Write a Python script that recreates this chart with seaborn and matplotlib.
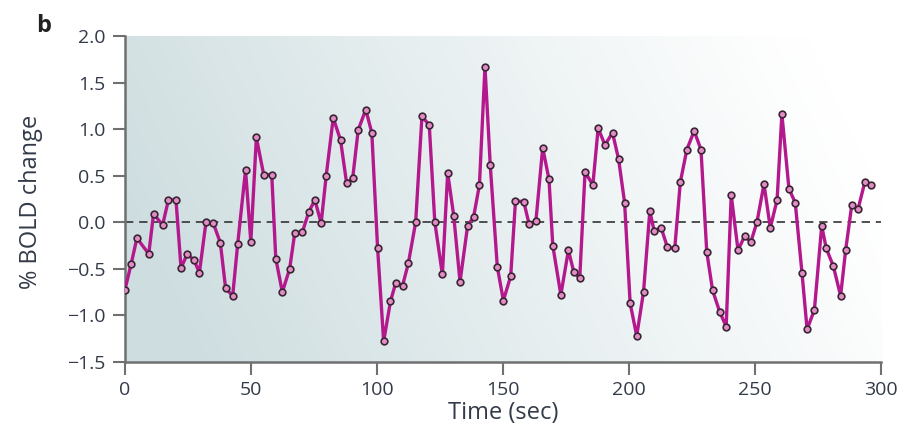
import numpy as np
import pandas as pd
import seaborn as sns
import matplotlib.pyplot as plt

# BOLD time course
time_sec = [0, 2.5, 4.8, 9.5, 11.4, 15.0, 17.3, 20.3, 22.3, 24.8,
            27.5, 29.6, 32.2, 35.1, 37.9, 40.0, 42.8, 44.8, 47.9, 50.0,
            52.2, 55.1, 58.3, 59.9, 62.5, 65.4, 67.4, 70.4, 73.0, 75.4,
            77.9, 79.9, 82.7, 85.6, 88.0, 90.4, 92.6, 95.6, 98.0, 100.3,
            102.7, 105.4, 107.5, 110.2, 112.5, 115.4, 117.9, 120.8, 123.0, 126.0,
            128.1, 130.5, 133.0, 136.0, 138.4, 140.7, 142.9, 145.0, 147.8, 150.2,
            153.1, 155.0, 158.3, 160.4, 163.1, 165.8, 168.3, 169.8, 173.0, 176.0,
            178.1, 180.5, 182.6, 185.7, 187.8, 190.5, 193.5, 195.9, 198.3, 200.5,
            203.1, 205.8, 208.3, 210.0, 212.8, 215.3, 218.2, 220.4, 223.0, 225.9,
            228.6, 230.9, 233.2, 236.0, 238.6, 240.6, 243.3, 245.9, 248.4, 250.8,
            253.6, 256.1, 258.8, 260.7, 263.5, 266.0, 268.7, 270.7, 273.6, 276.5,
            278.3, 281.1, 284.0, 286.0, 288.4, 290.9, 293.6, 296.1]
bold_change = [-0.73, -0.45, -0.17, -0.34, 0.09, -0.03, 0.24, 0.24, -0.49, -0.34,
               -0.41, -0.54, 0.00, -0.01, -0.22, -0.71, -0.79, -0.23, 0.56, -0.21,
               0.91, 0.51, 0.51, -0.39, -0.75, -0.50, -0.12, -0.11, 0.11, 0.24,
               -0.01, 0.50, 1.12, 0.88, 0.42, 0.47, 0.99, 1.21, 0.96, -0.28,
               -1.28, -0.85, -0.65, -0.68, -0.44, 0.00, 1.14, 1.04, 0.00, -0.56,
               0.53, 0.07, -0.64, -0.04, 0.06, 0.40, 1.67, 0.61, -0.48, -0.84,
               -0.58, 0.23, 0.22, -0.02, 0.01, 0.80, 0.46, -0.25, -0.78, -0.30,
               -0.53, -0.60, 0.54, 0.40, 1.01, 0.83, 0.96, 0.68, 0.21, -0.87,
               -1.22, -0.75, 0.12, -0.09, -0.06, -0.27, -0.28, 0.43, 0.78, 0.98,
               0.78, -0.32, -0.73, -0.96, -1.12, 0.29, -0.30, -0.15, -0.21, 0.00,
               0.41, -0.06, 0.24, 1.16, 0.36, 0.21, -0.55, -1.15, -0.94, -0.04,
               -0.28, -0.47, -0.79, -0.30, 0.18, 0.14, 0.43, 0.40]
x_ticks = [0, 50, 100, 150, 200, 250, 300]
y_ticks = [-1.5, -1.0, -0.5, 0.0, 0.5, 1.0, 1.5, 2.0]

df = pd.DataFrame({"time": time_sec, "bold": bold_change})

sns.set_style("ticks")
plt.rcParams['font.family'] = ['Open Sans', 'DejaVu Sans']
text_col = "#333a48"
axis_col = "#707070"

fig = plt.figure(figsize=(9.11, 4.33), dpi=100)
ax = fig.add_axes([0.137, 0.164, 0.830, 0.753])

# soft blue-grey to white gradient behind the data
gx, gy = np.meshgrid(np.linspace(0, 1, 256), np.linspace(0, 1, 128))
shade = np.clip(0.9 - gx * 1.0 + 0.2 * gy, 0, 1) ** 1.1
rgb_dark = np.array([0.81, 0.87, 0.88])
rgb_light = np.array([1.0, 1.0, 1.0])
img = rgb_light + (rgb_dark - rgb_light) * shade[..., None]
ax.imshow(img, extent=[0, 300, -1.5, 2.0], origin="upper", aspect="auto", zorder=0)

ax.axhline(0, color="#333333", lw=1.2, ls=(0, (5, 3.5)), zorder=1)
sns.lineplot(data=df, x="time", y="bold", ax=ax, color="#b3198c", lw=2.4,
             marker="o", markersize=4.8, markerfacecolor="#e28cc6",
             markeredgecolor="#3a2533", markeredgewidth=1.2, zorder=3)

ax.set_xlim(0, 300)
ax.set_ylim(-1.5, 2.0)
ax.set_xticks(x_ticks)
ax.set_yticks(y_ticks)
ax.set_yticklabels([f"{v:.1f}".replace("-", "\u2212") for v in y_ticks])
ax.set_xlabel("Time (sec)", fontsize=17, color=text_col)
ax.set_ylabel("% BOLD change", fontsize=17, color=text_col)
ax.xaxis.set_label_coords(0.5, -0.12)
ax.yaxis.set_label_coords(-0.108, 0.49)
ax.tick_params(axis="both", labelsize=14, colors=axis_col, labelcolor=text_col,
               length=9, width=1.5, direction="out", pad=5)
for side in ["top", "right"]:
    ax.spines[side].set_visible(False)
for side in ["left", "bottom"]:
    ax.spines[side].set_color(axis_col)
    ax.spines[side].set_linewidth(1.8)

fig.text(0.04, 0.925, "b", fontsize=17, fontweight="bold", color="#222222")

fig.savefig("out.png", dpi=100)
